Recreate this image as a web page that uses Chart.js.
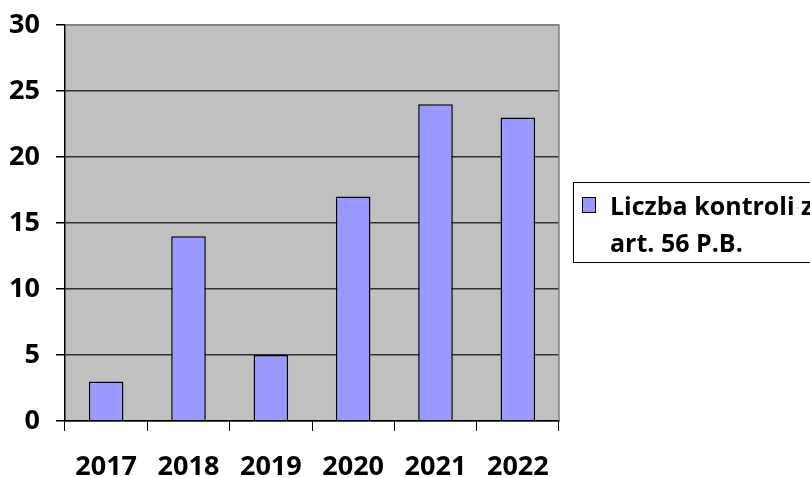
<!DOCTYPE html>
<html>
<head>
<meta charset="utf-8">
<script src="https://cdn.jsdelivr.net/npm/chart.js@4/dist/chart.umd.min.js"></script>
<style>
  html, body { margin: 0; padding: 0; background: #fff; overflow: hidden; }
  #wrap { width: 810px; height: 478px; position: relative; }
</style>
</head>
<body>
<div id="wrap"><canvas id="controlsChart"></canvas></div>
<script>
const years = ['2017', '2018', '2019', '2020', '2021', '2022'];
const controls = [3, 14, 5, 17, 24, 23];
const seriesLabel = ['Liczba kontroli z', 'art. 56 P.B.'];
const yMax = 30;
const yStep = 5;

const FONT = '"Open Sans", Lato, sans-serif';
const FONT_SIZE = 27;
const FONT_WEIGHT = 'bold';

// szare tło obszaru wykresu + ramka
const plotBackground = {
    id: 'plotBackground',
    beforeDraw(chart) {
        const { ctx, chartArea: a } = chart;
        ctx.save();
        ctx.fillStyle = '#c0c0c0';
        ctx.fillRect(a.left, a.top, a.right - a.left, a.bottom - a.top);
        ctx.restore();
    },
    afterDraw(chart) {
        const { ctx, chartArea: a } = chart;
        ctx.save();
        ctx.strokeStyle = '#808080';
        ctx.lineWidth = 1.5;
        ctx.beginPath();
        ctx.moveTo(a.left, a.top);
        ctx.lineTo(a.right, a.top);
        ctx.lineTo(a.right, a.bottom);
        ctx.stroke();
        ctx.restore();
    }
};

// legenda w ramce po prawej (ucięta przy krawędzi, jak w oryginale)
const boxLegend = {
    id: 'boxLegend',
    afterDraw(chart) {
        const ctx = chart.ctx;
        ctx.save();
        ctx.fillStyle = '#fff';
        ctx.fillRect(573, 182, 260, 80);
        ctx.strokeStyle = '#000';
        ctx.lineWidth = 1;
        ctx.strokeRect(573.5, 182.5, 260, 80);
        ctx.fillStyle = '#9999ff';
        ctx.fillRect(582, 197, 13, 15);
        ctx.strokeRect(582.5, 197.5, 13, 15);
        ctx.fillStyle = '#000';
        ctx.font = FONT_WEIGHT + ' ' + (FONT_SIZE - 2) + 'px ' + FONT;
        ctx.textBaseline = 'alphabetic';
        ctx.fillText(seriesLabel[0], 610, 215);
        ctx.fillText(seriesLabel[1], 610, 252);
        ctx.restore();
    }
};

const ctx = document.getElementById('controlsChart').getContext('2d');
const chart = new Chart(ctx, {
    type: 'bar',
    data: {
        labels: years,
        datasets: [{
            label: seriesLabel.join(' '),
            data: controls,
            backgroundColor: '#9999ff',
            borderColor: '#000',
            borderWidth: 1.5,
            categoryPercentage: 1,
            barPercentage: 0.42
        }]
    },
    options: {
        responsive: true,
        maintainAspectRatio: false,
        animation: false,
        layout: { padding: { left: 0, top: 25, right: 251, bottom: 0 } },
        plugins: {
            legend: { display: false },
            tooltip: { enabled: false }
        },
        scales: {
            x: {
                offset: true,
                grid: {
                    offset: true,
                    drawOnChartArea: false,
                    drawTicks: true,
                    tickLength: 10,
                    color: '#000'
                },
                border: { color: '#000', width: 1.5 },
                ticks: {
                    color: '#000',
                    font: { family: FONT, size: FONT_SIZE, weight: FONT_WEIGHT },
                    padding: 20,
                    maxRotation: 0
                },
                afterFit: scale => { scale.height = 57; }
            },
            y: {
                min: 0,
                max: yMax,
                ticks: {
                    stepSize: yStep,
                    color: '#000',
                    font: { family: FONT, size: FONT_SIZE, weight: FONT_WEIGHT },
                    padding: 16
                },
                grid: {
                    color: c => c.tick && c.tick.value === yMax ? '#808080' : '#333',
                    lineWidth: 1.5,
                    tickLength: 9,
                    tickColor: '#000'
                },
                border: { color: '#000', width: 1.5 },
                afterFit: scale => {
                    scale.width = 65;
                    scale.paddingTop = 0;
                    scale.paddingBottom = 0;
                }
            }
        }
    },
    plugins: [plotBackground, boxLegend]
});
</script>
</body>
</html>
